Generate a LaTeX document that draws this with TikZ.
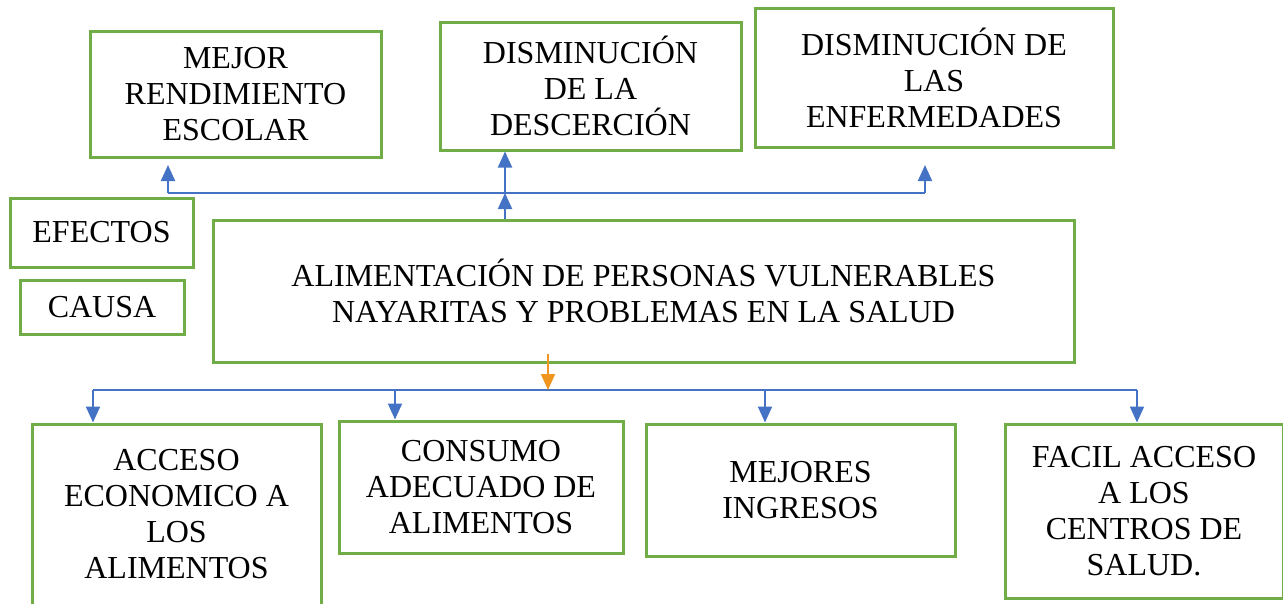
\documentclass[tikz,border=0pt]{standalone}
\usepackage{fontspec}
\setmainfont{Liberation Serif}
\usetikzlibrary{arrows.meta}
\definecolor{verde}{RGB}{112,173,71}
\definecolor{azul}{RGB}{68,114,196}
\definecolor{naranja}{RGB}{240,150,30}

\begin{document}
\begin{tikzpicture}[x=1pt,y=-1pt,
		caja/.style={draw=verde, line width=3pt, fill=white, align=center, inner sep=0pt, font=\fontsize{32}{36}\selectfont},
		linea/.style={draw=azul, line width=2pt},
		flecha/.style={linea, -{Triangle[width=14pt,length=16pt]}}]
		\useasboundingbox (0,0) rectangle (1283,603);
		% efectos
		\node[caja, minimum width=291pt, minimum height=126pt] (rend) at (235.5,94) {MEJOR\\RENDIMIENTO\\ESCOLAR};
		\node[caja, minimum width=301pt, minimum height=128pt] (desc) at (590.5,86) {DISMINUCIÓN\\DE LA\\DESCERCIÓN};
		\node[caja, minimum width=358pt, minimum height=139pt] (enf) at (934,77.5) {DISMINUCIÓN DE\\LAS\\ENFERMEDADES};
		\node[caja, minimum width=183pt, minimum height=69pt] (efectos) at (101.5,232.5) {EFECTOS};
		\node[caja, minimum width=164pt, minimum height=54pt] (causa) at (102,307) {CAUSA};
		% problema central
		\node[caja, minimum width=861pt, minimum height=142pt] (main) at (643.5,291) {ALIMENTACIÓN DE PERSONAS VULNERABLES\\NAYARITAS Y PROBLEMAS EN LA SALUD};
		% causas
		\node[caja, minimum width=289pt, minimum height=181pt] (acceso) at (176.5,514.5) {ACCESO\\ECONOMICO A\\LOS\\ALIMENTOS};
		\node[caja, minimum width=284pt, minimum height=132pt] (consumo) at (481,487) {CONSUMO\\ADECUADO DE\\ALIMENTOS};
		\node[caja, minimum width=309pt, minimum height=132pt] (ingresos) at (800.5,490) {MEJORES\\INGRESOS};
		\node[caja, minimum width=278pt, minimum height=174pt] (facil) at (1144,511) {FACIL ACCESO\\A LOS\\CENTROS DE\\SALUD.};
		% conectores arriba
		\coordinate (izq) at (168,193);
		\coordinate (cen) at (505,193);
		\coordinate (der) at (925,193);
		\coordinate (izqfin) at (168,165);
		\coordinate (derfin) at (925,165);
		\draw[linea] (izq) -- (der);
		\draw[flecha] (main.north -| cen) -- (cen);
		\draw[flecha] (cen) -- (desc.south -| cen);
		\draw[flecha] (izq) -- (izqfin);
		\draw[flecha] (der) -- (derfin);
		% conectores abajo
		\coordinate (raiz) at (548,390);
		\coordinate (b1) at (93,390);
		\coordinate (b2) at (395,390);
		\coordinate (b3) at (765,390);
		\coordinate (b4) at (1137,390);
		\draw[linea] (b1) -- (b4);
		\draw[flecha, draw=naranja] ([yshift=10pt]main.south -| raiz) -- (raiz);
		\draw[flecha] (b1) -- (acceso.north -| b1);
		\draw[flecha] (b2) -- (consumo.north -| b2);
		\draw[flecha] (b3) -- (ingresos.north -| b3);
		\draw[flecha] (b4) -- (facil.north -| b4);
	\end{tikzpicture}
\end{document}
